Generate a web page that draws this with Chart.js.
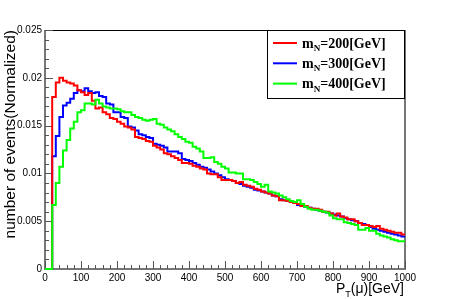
<!DOCTYPE html>
<html>
<head>
<meta charset="utf-8">
<script src="https://cdn.jsdelivr.net/npm/chart.js@4.4.1/dist/chart.umd.min.js"></script>
<style>
  html, body { margin: 0; padding: 0; background: #fff; }
  canvas { display: block; }
</style>
</head>
<body>
<canvas id="ptChart" width="449" height="299"></canvas>
<script>
// normalized muon pT distributions, 10 GeV bins from 0 to 1000
const binWidth = 10;
const xMax = 1000;
const massPoints = ['200', '300', '400'];
const lineColors = ['#ff0000', '#0000ff', '#00ff00'];
const drawOrder = [1, 2, 0]; // green on top, blue underneath

const mN200 = [
  0, 0, 0.0180, 0.0195, 0.0200, 0.0197, 0.0195, 0.0194, 0.0192, 0.0187,
  0.0185, 0.0182, 0.0184, 0.0176, 0.0168, 0.0169, 0.0164, 0.0162, 0.0158, 0.0157,
  0.0154, 0.0152, 0.0149, 0.0148, 0.0146, 0.0138, 0.0137, 0.0136, 0.0134, 0.0133,
  0.0129, 0.0127, 0.0125, 0.0121, 0.0120, 0.0118, 0.0116, 0.0114, 0.0111, 0.0111,
  0.0110, 0.0108, 0.0107, 0.0105, 0.0104, 0.0100, 0.0099, 0.0099, 0.0096, 0.0093,
  0.0093, 0.0093, 0.0092, 0.0090, 0.0091, 0.0088, 0.0087, 0.0086, 0.0084, 0.0083,
  0.0081, 0.0080, 0.0079, 0.0077, 0.0076, 0.0072, 0.0072, 0.0071, 0.0070, 0.0069,
  0.0068, 0.0066, 0.0066, 0.0064, 0.0063, 0.0063, 0.0062, 0.0060, 0.0060, 0.0058,
  0.0056, 0.0058, 0.0055, 0.0054, 0.0052, 0.0052, 0.0050, 0.0048, 0.0046, 0.0046,
  0.0045, 0.0044, 0.0045, 0.0042, 0.0041, 0.0040, 0.0039, 0.0038, 0.0038, 0.0036
];

const mN300 = [
  0, 0, 0.0118, 0.0139, 0.0159, 0.0171, 0.0174, 0.0178, 0.0184, 0.0187,
  0.0186, 0.0189, 0.0186, 0.0184, 0.0185, 0.0181, 0.0180, 0.0173, 0.0172, 0.0164,
  0.0164, 0.0159, 0.0158, 0.0149, 0.0148, 0.0145, 0.0141, 0.0140, 0.0138, 0.0137,
  0.0131, 0.0130, 0.0129, 0.0127, 0.0123, 0.0123, 0.0123, 0.0121, 0.0115, 0.0114,
  0.0113, 0.0111, 0.0109, 0.0107, 0.0106, 0.0104, 0.0102, 0.0100, 0.0098, 0.0096,
  0.0094, 0.0093, 0.0092, 0.0090, 0.0089, 0.0087, 0.0086, 0.0085, 0.0083, 0.0082,
  0.0081, 0.0080, 0.0079, 0.0077, 0.0076, 0.0073, 0.0072, 0.0071, 0.0070, 0.0069,
  0.0067, 0.0066, 0.0065, 0.0064, 0.0063, 0.0062, 0.0061, 0.0060, 0.0059, 0.0058,
  0.0057, 0.0056, 0.0055, 0.0053, 0.0052, 0.0051, 0.0050, 0.0048, 0.0047, 0.0046,
  0.0044, 0.0042, 0.0041, 0.0040, 0.0039, 0.0038, 0.0037, 0.0036, 0.0035, 0.0034
];

const mN400 = [
  0, 0, 0.0067, 0.0090, 0.0107, 0.0124, 0.0135, 0.0147, 0.0154, 0.0164,
  0.0166, 0.0173, 0.0173, 0.0172, 0.0177, 0.0173, 0.0170, 0.0169, 0.0168, 0.0168,
  0.0167, 0.0165, 0.0164, 0.0164, 0.0161, 0.0159, 0.0158, 0.0156, 0.0155, 0.0156,
  0.0157, 0.0152, 0.0151, 0.0148, 0.0146, 0.0144, 0.0141, 0.0138, 0.0136, 0.0133,
  0.0132, 0.0128, 0.0126, 0.0123, 0.0116, 0.0116, 0.0117, 0.0112, 0.0110, 0.0107,
  0.0105, 0.0101, 0.0101, 0.0100, 0.0100, 0.0094, 0.0094, 0.0093, 0.0091, 0.0089,
  0.0086, 0.0088, 0.0081, 0.0080, 0.0079, 0.0077, 0.0075, 0.0073, 0.0071, 0.0070,
  0.0072, 0.0068, 0.0065, 0.0063, 0.0062, 0.0062, 0.0061, 0.0060, 0.0059, 0.0056,
  0.0053, 0.0052, 0.0052, 0.0049, 0.0048, 0.0047, 0.0046, 0.0041, 0.0041, 0.0043,
  0.0040, 0.0040, 0.0037, 0.0035, 0.0034, 0.0033, 0.0031, 0.0030, 0.0029, 0.0029
];

const yTickStep = 0.005;
const yMax = 0.025;
const xTickStep = 100;

const binLowEdges = mN200.map((_, i) => i * binWidth);

function toSteps(values) {
  const pts = values.map((v, i) => ({ x: binLowEdges[i], y: v }));
  pts.push({ x: xMax, y: values[values.length - 1] });
  return pts;
}

const sansFont = '"Liberation Sans", Arial, sans-serif';
const serifFont = '"Liberation Serif", "Times New Roman", serif';

// text with a subscript part, e.g. m_N or P_T
function drawSubText(ctx, x, y, parts, size, weight, family) {
  let cx = x;
  parts.forEach(p => {
    const s = p.sub ? size * 0.65 : size;
    ctx.font = `${weight} ${s}px ${family}`;
    ctx.fillText(p.text, cx, p.sub ? y + size * 0.25 : y);
    cx += ctx.measureText(p.text).width;
  });
  return cx - x;
}

function measureSubText(ctx, parts, size, weight, family) {
  let w = 0;
  parts.forEach(p => {
    const s = p.sub ? size * 0.65 : size;
    ctx.font = `${weight} ${s}px ${family}`;
    w += ctx.measureText(p.text).width;
  });
  return w;
}

const rootFrame = {
  id: 'rootFrame',
  beforeDatasetsDraw(chart) {
    const { ctx, chartArea: a, scales } = chart;
    ctx.save();
    // top and right frame
    ctx.strokeStyle = '#000';
    ctx.lineWidth = 1;
    ctx.beginPath();
    ctx.moveTo(a.left, a.top + 0.5);
    ctx.lineTo(a.right, a.top + 0.5);
    ctx.stroke();
    ctx.strokeStyle = '#777';
    ctx.lineWidth = 2;
    ctx.beginPath();
    ctx.moveTo(a.right, a.top);
    ctx.lineTo(a.right, a.bottom);
    ctx.stroke();
    // axes
    ctx.beginPath();
    ctx.moveTo(a.left, a.top);
    ctx.lineTo(a.left, a.bottom + 1);
    ctx.moveTo(a.left - 1, a.bottom);
    ctx.lineTo(a.right + 1, a.bottom);
    ctx.stroke();

    // inward ticks
    ctx.lineWidth = 1;
    ctx.strokeStyle = '#555';
    ctx.beginPath();
    for (let k = 0; k <= Math.round(yMax / 0.001); k++) {
      const v = k * 0.001;
      const py = Math.round(scales.y.getPixelForValue(v)) + 0.5;
      const len = k % 5 === 0 ? 8 : 4;
      ctx.moveTo(a.left, py);
      ctx.lineTo(a.left + len, py);
    }
    for (let k = 0; k <= xMax / 20; k++) {
      const px = Math.round(scales.x.getPixelForValue(k * 20)) + 0.5;
      const len = k % 5 === 0 ? 8 : 4;
      ctx.moveTo(px, a.bottom);
      ctx.lineTo(px, a.bottom - len);
    }
    ctx.stroke();
    ctx.restore();
  },
  afterDraw(chart) {
    const { ctx, chartArea: a } = chart;
    ctx.save();
    ctx.fillStyle = '#000';
    ctx.textBaseline = 'alphabetic';

    // y title
    ctx.save();
    ctx.translate(15, a.top);
    ctx.rotate(-Math.PI / 2);
    ctx.font = `15.5px ${sansFont}`;
    ctx.textAlign = 'right';
    ctx.fillText('number of events(Normalized)', 0, 0);
    ctx.restore();

    // x title
    ctx.textAlign = 'left';
    const xParts = [{ text: 'P' }, { text: 'T', sub: true }, { text: '(\u03bc)[GeV]' }];
    const w = measureSubText(ctx, xParts, 14, 'normal', sansFont);
    drawSubText(ctx, a.right - 1 - w, 293, xParts, 14, 'normal', sansFont);

    // legend
    const lx = 267, ly = a.top, lw = 137, lh = 68;
    ctx.fillStyle = '#fff';
    ctx.fillRect(lx, ly, lw, lh);
    ctx.strokeStyle = '#000';
    ctx.lineWidth = 1;
    ctx.strokeRect(lx + 0.5, ly + 0.5, lw, lh);
    chart.data.datasets.forEach((ds, i) => {
      const ey = ly + 13 + i * 20.3;
      ctx.strokeStyle = ds.borderColor;
      ctx.lineWidth = 2;
      ctx.beginPath();
      ctx.moveTo(lx + 6, ey);
      ctx.lineTo(lx + 30, ey);
      ctx.stroke();
      ctx.fillStyle = '#000';
      drawSubText(ctx, lx + 35, ey + 4.5,
        [{ text: 'm' }, { text: 'N', sub: true }, { text: '=' + massPoints[i] + '[GeV]' }],
        14, 'bold', serifFont);
    });
    ctx.restore();
  }
};

const seriesValues = [mN200, mN300, mN400];

new Chart(document.getElementById('ptChart'), {
  type: 'line',
  data: {
    datasets: seriesValues.map((vals, i) => ({
      label: 'm_N=' + massPoints[i] + '[GeV]',
      data: toSteps(vals),
      borderColor: lineColors[i],
      borderWidth: 2,
      stepped: true,
      pointRadius: 0,
      fill: false,
      clip: false,
      order: drawOrder[i]
    }))
  },
  options: {
    responsive: false,
    animation: false,
    events: [],
    layout: { padding: { top: 30, right: 44, left: 0, bottom: 0 } },
    plugins: { legend: { display: false }, tooltip: { enabled: false } },
    scales: {
      x: {
        type: 'linear',
        min: 0,
        max: xMax,
        grid: { display: false, drawTicks: false },
        border: { display: false },
        afterFit(scale) { scale.height = 30; },
        afterBuildTicks(scale) {
          scale.ticks = [];
          for (let v = 0; v <= xMax; v += xTickStep) scale.ticks.push({ value: v });
        },
        ticks: {
          padding: 3,
          maxRotation: 0,
          autoSkip: false,
          color: '#000',
          font: { family: sansFont, size: 10 },
          callback: v => String(v)
        }
      },
      y: {
        min: 0,
        max: yMax,
        grid: { display: false, drawTicks: false },
        border: { display: false },
        afterFit(scale) { scale.width = 45; },
        afterBuildTicks(scale) {
          scale.ticks = [];
          for (let k = 0; k <= Math.round(yMax / yTickStep); k++) scale.ticks.push({ value: k * yTickStep });
        },
        ticks: {
          padding: 3,
          autoSkip: false,
          color: '#000',
          font: { family: sansFont, size: 10 },
          callback: v => String(Number(v.toFixed(3)))
        }
      }
    }
  },
  plugins: [rootFrame]
});
</script>
</body>
</html>
